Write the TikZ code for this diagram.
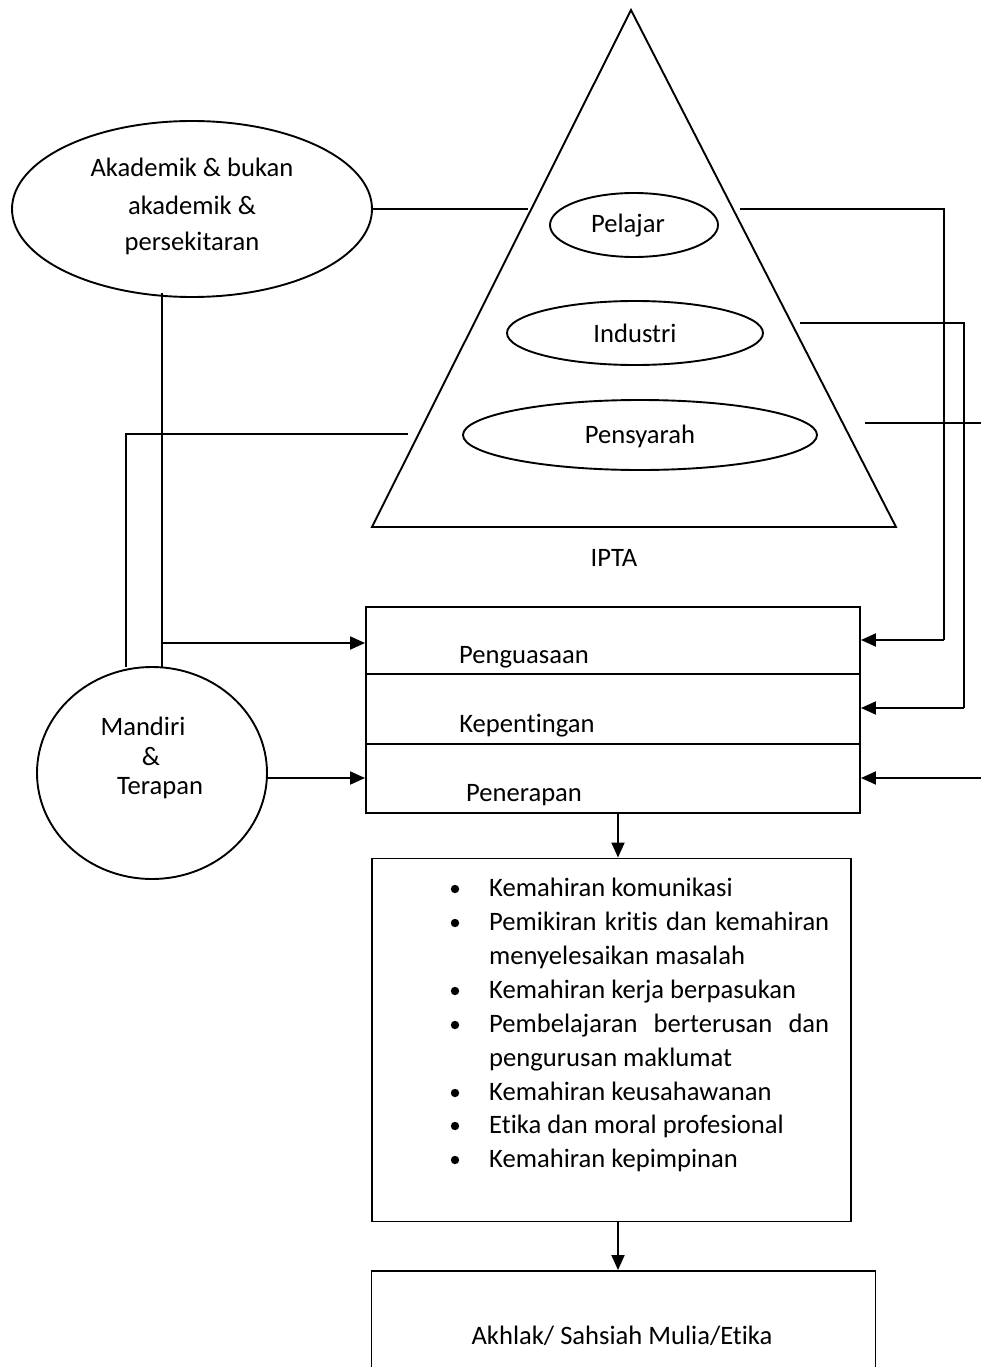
\documentclass[tikz,border=0pt]{standalone}
\usepackage{fontspec}
\setmainfont[Ligatures=NoCommon]{Carlito}
\usetikzlibrary{shapes.geometric,arrows.meta}
\begin{document}
\begin{tikzpicture}[x=1pt,y=-1pt,
  every node/.style={font=\fontsize{26.6}{34}\selectfont},
  ln/.style={line width=1.9pt},
  ell/.style={draw,ln,ellipse,inner sep=0pt},
  bx/.style={draw,ln,rectangle,inner sep=0pt},
  arr/.style={ln,-{Triangle[length=15pt,width=13pt]}},
  txt/.style={inner sep=0pt},
  lab/.style={inner sep=0pt,anchor=base west}]
\useasboundingbox (0,0) rectangle (981,1367);
\clip (0,0) rectangle (981,1367);
% triangle
\coordinate (apex) at (631,10);
\coordinate (bl) at (372,527);
\coordinate (br) at (896,527);
\draw[ln,line join=miter] (apex) -- (bl) -- (br) -- cycle;
% ellipses
\node[ell,minimum width=360,minimum height=176] (ak) at (192,209) {};
\node[txt] (akt1) at (192,167) {Akademik \& bukan};
\node[txt] (akt2) at (192,205) {akademik \&};
\node[txt] (akt3) at (192,243) {persekitaran};
\node[ell,minimum width=168,minimum height=64] (pel) at (634,225) {};
\node[txt] (pelt) at (628,226) {Pelajar};
\node[ell,minimum width=256,minimum height=64] (ind) at (635,333) {};
\node[txt] (indt) at (635,333) {Industri};
\node[ell,minimum width=354,minimum height=70] (pen) at (640,435) {};
\node[txt] (pent) at (640,436) {Pensyarah};
\node[txt] (ipta) at (614,558) {IPTA};
\node[ell,minimum width=230,minimum height=212] (man) at (152,773) {};
\node[txt] (mant1) at (143,726) {Mandiri};
\node[txt] (mant2) at (151,757) {\&};
\node[txt] (mant3) at (160,788) {Terapan};
% stacked box
\node[bx,minimum width=494,minimum height=67] (b1) at (613,640.5) {};
\node[bx,minimum width=494,minimum height=70] (b2) at (613,709) {};
\node[bx,minimum width=494,minimum height=69] (b3) at (613,778.5) {};
\node[txt] (b1t) at (524,657) {Penguasaan};
\node[txt] (b2t) at (527,726) {Kepentingan};
\node[txt] (b3t) at (524,795) {Penerapan};
% skills box
\node[bx,minimum width=479,minimum height=363] (sk) at (611.5,1040) {};
\foreach \i/\y/\t in {1/896/{Kemahiran komunikasi},
  2/930/{\hbox to 340pt{Pemikiran\hfill kritis\hfill dan\hfill kemahiran}},
  3/964/{menyelesaikan masalah},
  4/998/{Kemahiran kerja berpasukan},
  5/1032/{\hbox to 340pt{Pembelajaran\hfill berterusan\hfill dan}},
  6/1066/{pengurusan maklumat},
  7/1100/{Kemahiran keusahawanan},
  8/1133/{Etika dan moral profesional},
  9/1167/{Kemahiran kepimpinan}}
  {\node[lab] (s\i) at (489,\y) {\t};}
\foreach \y/\n in {896/1,930/2,998/4,1032/5,1100/7,1133/8,1167/9}
  {\fill (455,\y-7) circle (4.2) coordinate (bul\n);}
% final box
\node[bx,minimum width=504,minimum height=140] (fin) at (623.5,1341) {};
\node[txt] (fint) at (622,1336) {Akhlak/ Sahsiah Mulia/Etika};
% connectors
\coordinate (akr) at (528,209);
\draw[ln] (ak.east) -- (akr);
\coordinate (p1) at (740,209);
\coordinate (p2) at (944,209);
\coordinate (p3) at (944,640);
\draw[ln] (p1) -- (p2) -- (p3);
\draw[arr] (p3) -- (b1.east |- p3);
\coordinate (i1) at (800,323);
\coordinate (i2) at (964,323);
\coordinate (i3) at (964,708);
\draw[ln] (i1) -- (i2) -- (i3);
\draw[arr] (i3) -- (b2.east |- i3);
\coordinate (s1r) at (865,423);
\coordinate (s2r) at (985,423);
\draw[ln] (s1r) -- (s2r);
\coordinate (s3r) at (985,778);
\draw[arr] (s3r) -- (b3.east |- s3r);
% left
\coordinate (l1) at (162,293);
\coordinate (l2) at (162,667);
\draw[ln] (l1) -- (l2);
\coordinate (l3) at (162,643);
\draw[arr] (l3) -- (b1.west |- l3);
\coordinate (m1) at (126,667);
\coordinate (m2) at (126,434);
\coordinate (m3) at (408,434);
\draw[ln] (m1) -- (m2) -- (m3);
\draw[arr] (man.east |- 0,778) -- (b3.west |- 0,778);
% down arrows
\draw[arr] (618,813) coordinate (d1) -- (sk.north -| d1);
\draw[arr] (618,1222) coordinate (d2) -- (fin.north -| d2);
\end{tikzpicture}
\end{document}
